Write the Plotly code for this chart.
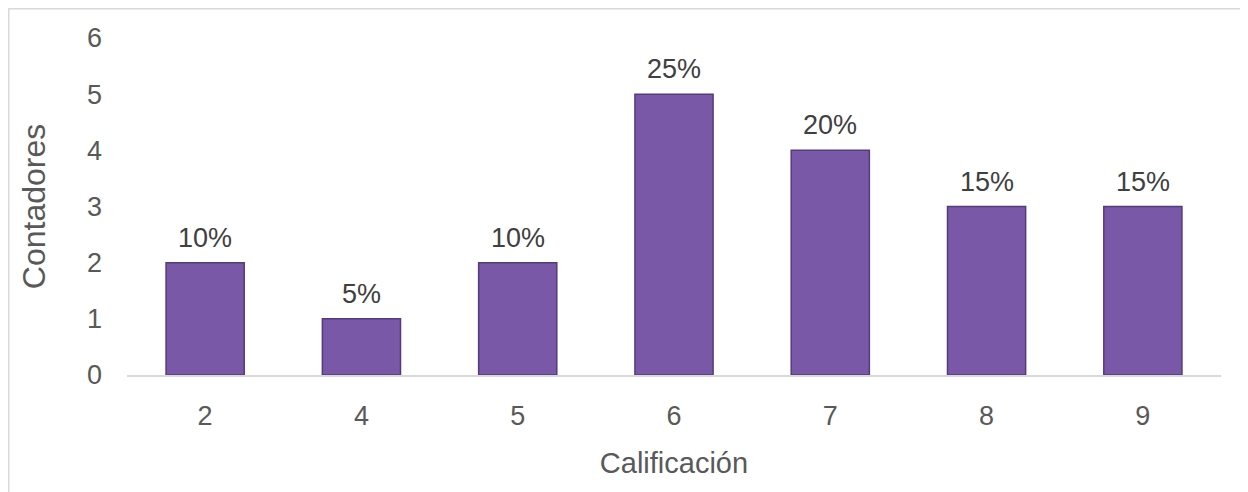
import plotly.graph_objects as go

categories = ["2", "4", "5", "6", "7", "8", "9"]
counts = [2, 1, 2, 5, 4, 3, 3]
pct_labels = ["10%", "5%", "10%", "25%", "20%", "15%", "15%"]
y_ticks = [0, 1, 2, 3, 4, 5, 6]

# the page body adds an 8px margin, so the figure is sized to fill the rest
W, H = 1240, 484
L, R, T, B = 119, 27, 30, 117
pw, ph = W - L - R, H - T - B

FONT = "Liberation Sans, Arial, sans-serif"
GRAY = "#595959"

fig = go.Figure()
fig.add_trace(go.Bar(
    x=categories, y=counts, width=0.5,
    marker=dict(color="#7858a7", line=dict(color="#553a7d", width=1.5)),
    hoverinfo="skip",
))

annotations = []
for i, (v, t) in enumerate(zip(counts, pct_labels)):
    annotations.append(dict(x=i, y=v, xref="x", yref="y", text=t, showarrow=False,
                            yanchor="bottom", yshift=8,
                            font=dict(family=FONT, size=27, color="#404040")))

def px_x(p):
    return (p - L) / pw
def px_y(p):
    return (H - B - p) / ph

shapes = [dict(type="rect", xref="paper", yref="paper",
               x0=px_x(0.5), x1=px_x(1260), y0=px_y(0.5), y1=px_y(510),
               line=dict(color="#d9d9d9", width=2), fillcolor="rgba(0,0,0,0)", layer="below")]

fig.update_layout(
    width=W, height=H,
    margin=dict(l=L, r=R, t=T, b=B, pad=0, autoexpand=False),
    paper_bgcolor="white", plot_bgcolor="white",
    showlegend=False,
    font=dict(family=FONT, size=27, color=GRAY),
    xaxis=dict(
        type="category", range=[-0.5, len(categories) - 0.5], automargin=False,
        showline=True, linecolor="#d9d9d9", linewidth=2,
        showgrid=False, ticks="", tickfont=dict(size=27, color=GRAY),
        ticklabelstandoff=16,
        title=dict(text="Calificación", font=dict(size=29, color=GRAY), standoff=22),
    ),
    yaxis=dict(
        range=[0, 6], tickvals=y_ticks, showgrid=False, zeroline=False, automargin=False,
        showline=False, ticks="", tickfont=dict(size=27, color=GRAY),
        ticklabelstandoff=24,
        title=dict(text="Contadores", font=dict(size=32, color=GRAY), standoff=31),
    ),
    annotations=annotations,
    shapes=shapes,
)

fig.write_html("out.html")
